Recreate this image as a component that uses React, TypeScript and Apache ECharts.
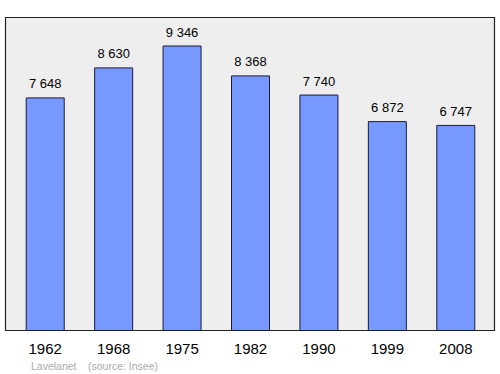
import React, { useEffect, useRef } from "react";
import * as echarts from "echarts";

const years = ["1962", "1968", "1975", "1982", "1990", "1999", "2008"];
const population = [7648, 8630, 9346, 8368, 7740, 6872, 6747];
const footerTown = "Lavelanet";
const footerSource = "(source: Insee)";

const fmt = (v: number) => {
  const s = String(v);
  return s.replace(/\B(?=(\d{3})+(?!\d))/g, " ");
};

export default function App() {
  const ref = useRef<HTMLDivElement>(null);
  useEffect(() => {
    if (!ref.current) return;
    const chart = echarts.init(ref.current, null, { renderer: "svg" });
    const ff = "Liberation Sans, Arial, sans-serif";
    chart.setOption({
      animation: false,
      textStyle: { fontFamily: ff },
      graphic: [
        {
          type: "rect",
          z: -10,
          shape: { x: 5.5, y: 17.5, width: 489, height: 313 },
          style: { fill: "#eeeeee", stroke: "#222222", lineWidth: 1.2 },
        },
        {
          type: "text",
          x: 31,
          y: 360,
          style: { text: footerTown, fill: "#aaaaaa", fontSize: 10.5, fontFamily: ff },
        },
        {
          type: "text",
          x: 88,
          y: 360,
          style: { text: footerSource, fill: "#aaaaaa", fontSize: 10.5, fontFamily: ff },
        },
      ],
      grid: { left: 11, right: 10, top: 17, height: 314 },
      xAxis: {
        type: "category",
        data: years,
        axisLine: { show: false },
        axisTick: { show: false },
        axisLabel: { color: "#000", fontSize: 15, margin: 10 },
      },
      yAxis: {
        type: "value",
        min: 0,
        max: 10280,
        show: false,
        splitLine: { show: false },
      },
      series: [
        {
          type: "bar",
          data: population,
          barWidth: 39,
          itemStyle: { color: "#7799ff", borderColor: "#1a1a3a", borderWidth: 1 },
          label: {
            show: true,
            position: "top",
            distance: 7,
            color: "#000",
            fontSize: 13,
            formatter: (p: any) => fmt(p.value),
          },
        },
      ],
    });
    return () => chart.dispose();
  }, []);
  return <div ref={ref} style={{ width: 500, height: 374, position: "absolute", left: 0, top: 0, background: "#fff" }} />;
}
